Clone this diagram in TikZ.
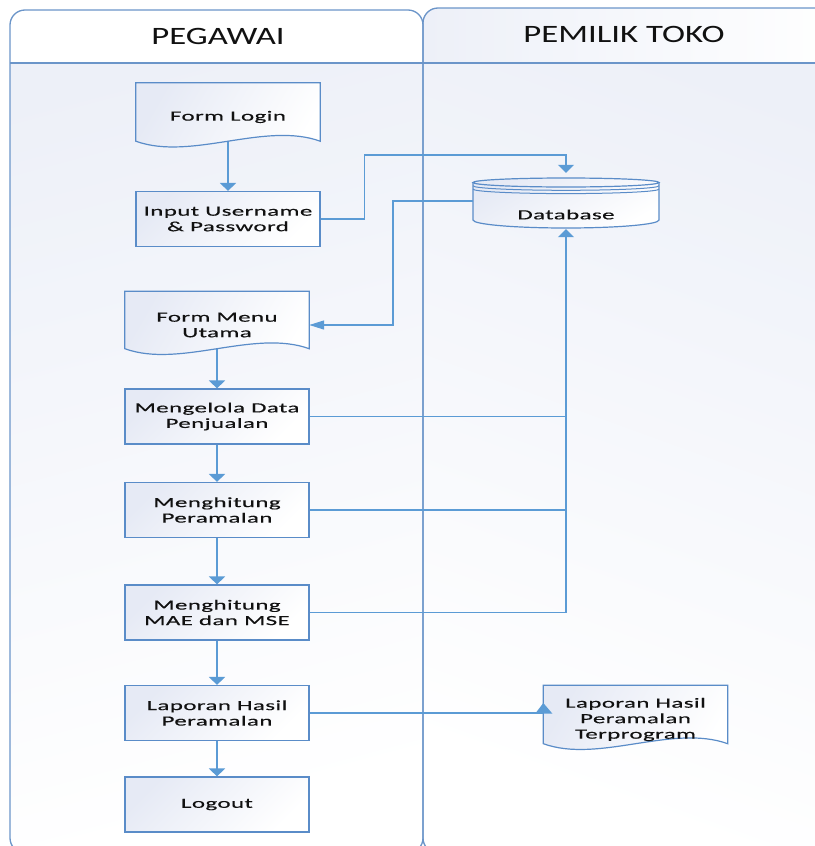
\documentclass[tikz,border=0pt]{standalone}
\usepackage{fontspec}
\setmainfont{Carlito}
\newfontfamily\boxfont[FakeStretch=1.78,LetterSpace=3,FakeBold=0.4]{Carlito}
\newfontfamily\lanefont[FakeStretch=1.39]{Carlito}
\usetikzlibrary{arrows.meta,calc}

\definecolor{laneline}{HTML}{6B95C9}
\definecolor{connline}{HTML}{5B9BD5}
\definecolor{boxline}{HTML}{5A8CC8}
\definecolor{shadeA}{HTML}{E6EAF5}
\definecolor{laneA}{HTML}{EDF0F8}
\definecolor{txt}{HTML}{111111}

\pgfdeclarelayer{lanes}
\pgfdeclarelayer{conn}
\pgfdeclarelayer{docbg}
\pgfsetlayers{lanes,conn,docbg,main}

\tikzset{
  boxtext/.style={font=\boxfont\fontsize{14}{15.5}\selectfont, text=txt, align=center},
  proc/.style={boxtext, draw=boxline, line width=1.2pt, top color=shadeA, bottom color=white,
    shading angle=45, minimum width=184pt, minimum height=55pt, inner sep=0pt},
  docnode/.style={boxtext, minimum width=184pt, inner sep=0pt},
  docline/.style={draw=boxline, line width=1.2pt, top color=shadeA, bottom color=white, shading angle=60},
  lanebox/.style={draw=laneline, line width=1.3pt},
  lanetitle/.style={font=\lanefont\fontsize{25}{28}\selectfont, text=txt},
  vconn/.style={draw=connline, line width=2.4pt, -{Triangle[length=8pt,width=16pt]}},
  conn/.style={draw=connline, line width=1.5pt},
  hend/.style={-{Triangle[length=15pt,width=9pt]}},
  vend/.style={-{Triangle[length=8pt,width=16pt]}},
}

% document outline: side edges end 10pt above the node bottom, wavy bottom edge
\newcommand\docoutline[1]{%
  \path[docline] (#1.north west) -- (#1.north east) -- ($(#1.south east)+(0,-10)$)
    .. controls ($(#1.south west)!0.7!(#1.south east)+(0,-30)$) and ($(#1.south west)!0.3!(#1.south east)+(0,10)$)
    .. ($(#1.south west)+(0,-10)$) -- cycle;}

\begin{document}
\begin{tikzpicture}[x=1pt,y=-1pt]
\useasboundingbox (0,0) rectangle (814,846);
\clip (0,0) rectangle (814,846);

% ---- swimlanes ----
\begin{pgfonlayer}{lanes}
  \fill[top color=laneA, bottom color=white, shading angle=15, rounded corners=15pt] (10,10) rectangle (423,853);
  \fill[top color=laneA, bottom color=white, shading angle=-20, rounded corners=15pt] (423,8) rectangle (845,853);
  \begin{scope}
    \clip[rounded corners=15pt] (10,10) rectangle (423,853);
    \fill[white] (0,0) rectangle (423,63);
  \end{scope}
  \begin{scope}
    \clip[rounded corners=15pt] (423,8) rectangle (845,853);
    \fill[left color=laneA, right color=white] (423,0) rectangle (845,63);
  \end{scope}
  \draw[lanebox, rounded corners=15pt] (423,8) rectangle (845,853);
  \draw[lanebox, rounded corners=15pt] (10,10) rectangle (423,853);
  \draw[lanebox] (10,63) -- (845,63);
\end{pgfonlayer}
\node[lanetitle] (tpeg) at (218,36) {PEGAWAI};
\node[lanetitle] (tpem) at (624,34) {PEMILIK TOKO};

% ---- documents ----
\node[docnode, minimum height=68pt] (formlogin) at (228,117) {Form Login};
\node[docnode, minimum height=67pt] (formmenu) at (217,325) {Form Menu\\Utama};
\node[docnode, minimum height=68pt] (lapdoc) at (635.5,719.5) {Laporan Hasil\\Peramalan\\Terprogram};
\begin{pgfonlayer}{docbg}
  \docoutline{formlogin}
  \docoutline{formmenu}
  \docoutline{lapdoc}
\end{pgfonlayer}

% ---- processes ----
\node[proc] (input) at (228,219) {Input Username\\\& Password};
\node[proc] (kelola) at (217,416.5) {Mengelola Data\\Penjualan};
\node[proc] (ramal) at (217,510) {Menghitung\\Peramalan};
\node[proc] (mae) at (217,612.5) {Menghitung\\MAE dan MSE};
\node[proc] (lapor) at (217,713) {Laporan Hasil\\Peramalan};
\node[proc] (logout) at (217,804.5) {Logout};

% ---- database (stacked cylinder) ----
\node[minimum width=186pt, minimum height=56pt, inner sep=0pt] (db) at (566,201) {};
\node[boxtext] (dblabel) at (566,214.5) {Database};
\begin{pgfonlayer}{docbg}
  \path[top color=shadeA, bottom color=white, shading angle=30]
    (473,182.5) -- (473,220) arc[start angle=180, end angle=0, x radius=93, y radius=8]
    -- (659,182.5) arc[start angle=0, end angle=-180, x radius=93, y radius=4.5] -- cycle;
  \draw[boxline, line width=1.2pt]
    (473,182.5) -- (473,220) arc[start angle=180, end angle=0, x radius=93, y radius=8] -- (659,182.5);
  \draw[boxline, line width=1.2pt] (566,182.5) ellipse[x radius=93, y radius=4.5];
  \draw[boxline, line width=1pt] (473,185.8) arc[start angle=180, end angle=0, x radius=93, y radius=4.5];
  \draw[boxline, line width=1pt] (473,189.1) arc[start angle=180, end angle=0, x radius=93, y radius=4.5];
\end{pgfonlayer}

% ---- connectors ----
\begin{pgfonlayer}{conn}
  \draw[vconn] (formlogin.center) -- (input.north);
  \draw[vconn] (formmenu.center) -- (kelola.north);
  \draw[vconn] (kelola.south) -- (ramal.north);
  \draw[vconn] (ramal.south) -- (mae.north);
  \draw[vconn] (mae.south) -- (lapor.north);
  \draw[vconn] (lapor.south) -- (logout.north);
\end{pgfonlayer}
\draw[conn, vend] (input.east) -- ++(44,0) |- ($(db.north)+(0,-18)$) -- (db.north);
\draw[conn, hend] (db.west) -- ++(-80,0) |- (formmenu.east);
\draw[conn] (kelola.east) -- (kelola.east -| db.south);
\draw[conn] (ramal.east) -- (ramal.east -| db.south);
\draw[conn, vend] (mae.east) -| (db.south);
\coordinate (lapin) at (lapor.east -| lapdoc.west);
\draw[conn] (lapor.east) -- (lapin);
\fill[connline] ($(lapin)+(-8,0.5)$) -- ($(lapin)+(0,-10)$) -- ($(lapin)+(9,0.5)$) -- cycle;
\end{tikzpicture}
\end{document}
